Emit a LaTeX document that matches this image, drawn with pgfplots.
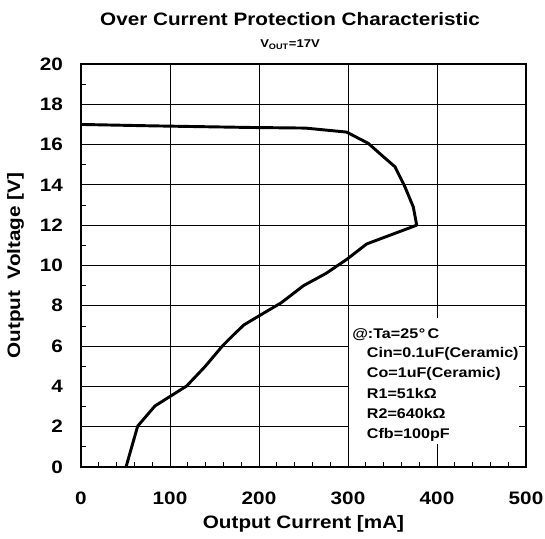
\documentclass[border=0pt]{standalone}
\usepackage{pgfplots}
\pgfplotsset{compat=1.18}
\usepackage{fontspec}
\setmainfont{Liberation Sans}[FakeStretch=1.15]
\begin{document}
\begin{tikzpicture}
\useasboundingbox (-60.75pt,-53.25pt) rectangle (348pt,350.25pt);
\begin{axis}[
  at={(0,0)}, anchor=south west,
  scale only axis, width=333.75pt, height=302.25pt,
  xmin=0, xmax=500, ymin=0, ymax=20,
  xtick={0,100,...,500}, ytick={0,2,...,20},
  minor xtick={20,40,...,480}, minor ytick={1,3,...,19},
  xtick pos=bottom, ytick pos=left,
  tick align=inside,
  major tick length=5pt, minor tick length=4pt,
  grid=major,
  major grid style={black, line width=0.6pt},
  axis line style={black, line width=1pt},
  every tick/.style={black, line width=0.6pt},
  /pgf/number format/assume math mode=true,
  ticklabel style={font=\fontsize{13.5}{15}\selectfont\bfseries},
  xticklabel style={yshift=-15pt},
  yticklabel style={xshift=-10pt},
  xlabel={Output Current [mA]},
  ylabel={Output\ \ Voltage [V]},
  label style={font=\fontsize{13.5}{15}\selectfont\bfseries},
  xlabel style={at={(axis description cs:0.5,0)}, anchor=base, yshift=-45.75pt},
  ylabel style={at={(axis description cs:-0.137,0.5)}, anchor=base},
]
\addplot[black, line width=2.2pt, line join=round] coordinates {
(0,17.0) (80,16.93) (190,16.85) (252,16.82) (298.5,16.62) (322.8,16.06)
(339.7,15.4) (352.8,14.9) (364,13.9) (373.4,12.9) (377.2,12.0)
(321,11.07) (298.5,10.3) (275,9.6) (250,9.0) (225,8.15) (200,7.5)
(183,7.05) (170,6.5) (159.2,6.02) (139.3,4.98) (118.7,4.02)
(100,3.5) (83.1,3.03) (63.7,2.03) (57,1.0) (50.6,0)
};
\fill[white] (axis cs:301.5,1.15) rectangle (axis cs:500,7.4);
\draw[black, line width=1pt] (axis cs:500,0) -- (axis cs:500,20);
\draw[black, line width=0.6pt] (axis cs:500,2) -- ++(-5pt,0);
\draw[black, line width=0.6pt] (axis cs:500,4) -- ++(-5pt,0);
\draw[black, line width=0.6pt] (axis cs:500,6) -- ++(-5pt,0);
\draw[black, line width=0.6pt] (axis cs:400,0) -- ++(0,5pt);
\begin{scope}[every node/.style={font=\fontsize{10.5}{12}\selectfont\bfseries, anchor=base west, inner sep=0pt}]
\node at (axis cs:304.5,6.4) {@:Ta=25\kern0.05em°\,C};
\node at (axis cs:321,5.42) {Cin=0.1uF(Ceramic)};
\node at (axis cs:321,4.42) {Co=1uF(Ceramic)};
\node at (axis cs:321,3.42) {R1=51kΩ};
\node at (axis cs:321,2.42) {R2=640kΩ};
\node at (axis cs:321,1.42) {Cfb=100pF};
\end{scope}
\end{axis}
\node[anchor=base, font=\fontsize{13.5}{15}\selectfont\bfseries, inner sep=0pt] at (156.75pt,330.75pt) {Over Current Protection Characteristic};
\node[anchor=base, font=\fontsize{8.5}{11}\selectfont\bfseries, inner sep=0pt] at (156.75pt,314.5pt) {V\textsubscript{OUT}=17V};
\end{tikzpicture}
\end{document}
